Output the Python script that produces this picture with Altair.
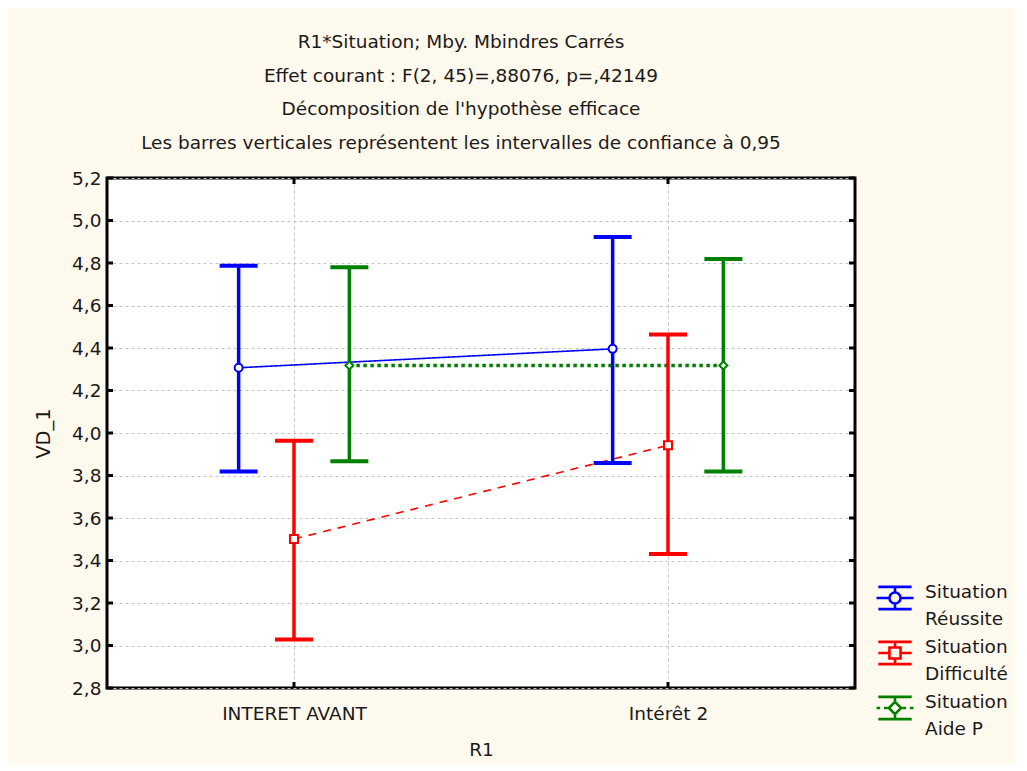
import altair as alt
import pandas as pd

categories = ["INTERET AVANT", "Intérêt 2"]
series_names = ["Situation Réussite", "Situation Difficulté", "Situation Aide P"]
series_colors = ["#0000ff", "#ff0000", "#008000"]

means_reussite = [4.307, 4.396]
lower_reussite = [3.819, 3.859]
upper_reussite = [4.787, 4.922]

means_difficulte = [3.501, 3.942]
lower_difficulte = [3.028, 3.431]
upper_difficulte = [3.964, 4.463]

means_aide = [4.318, 4.318]
lower_aide = [3.867, 3.819]
upper_aide = [4.780, 4.819]

y_ticks = [2.8, 3.0, 3.2, 3.4, 3.6, 3.8, 4.0, 4.2, 4.4, 4.6, 4.8, 5.0, 5.2]

title_lines = [
    "R1*Situation; Mby. Mbindres Carrés",
    "Effet courant : F(2, 45)=,88076, p=,42149",
    "Décomposition de l'hypothèse efficace",
    "Les barres verticales représentent les intervalles de confiance à 0,95",
]

markers = ["circle", "square", "diamond"]
line_dashes = [[1, 0], [8, 7], [3.5, 3.5]]
line_widths = [1.6, 1.6, 3.5]

# ---- build table
rows = []
all_means = [means_reussite, means_difficulte, means_aide]
all_lo = [lower_reussite, lower_difficulte, lower_aide]
all_hi = [upper_reussite, upper_difficulte, upper_aide]
for si, name in enumerate(series_names):
    for ci, cat in enumerate(categories):
        rows.append(dict(series=name, sidx=si, cat=cat, cidx=ci,
                         mean=all_means[si][ci], lo=all_lo[si][ci],
                         hi=all_hi[si][ci], marker=markers[si]))
df = pd.DataFrame(rows)
ticks_df = pd.DataFrame({"v": y_ticks})
cat_df = pd.DataFrame({"cidx": list(range(len(categories)))})

FONT = "DejaVu Sans"
FS = 18.5
TXT = "#1a1a1a"
W, H = 748, 510
DODGE = 0.148

label_expr = "[" + ",".join("'" + c + "'" for c in categories) + "][datum.value]"
col_expr = "[" + ",".join("'" + c + "'" for c in series_colors) + "][datum.sidx]"
dash_expr = "[" + ",".join("[" + ",".join(str(v) for v in d) + "]" for d in line_dashes) + "][datum.sidx]"
lw_expr = "[" + ",".join(str(v) for v in line_widths) + "][datum.sidx]"

x_scale = alt.Scale(domain=[-0.5, len(categories) - 0.5], nice=False, zero=False)
y_scale = alt.Scale(domain=[y_ticks[0], y_ticks[-1]], nice=False, zero=False)

x_axis = alt.Axis(values=list(range(len(categories))), labelExpr=label_expr,
                  title="R1", grid=True, gridDash=[3, 3], gridColor="#c4c4c4",
                  domain=False, ticks=False, labelPadding=16, titlePadding=18,
                  labelFontSize=FS, titleFontSize=FS, labelFont=FONT, titleFont=FONT,
                  labelColor=TXT, titleColor=TXT, titleFontWeight="normal")
y_axis = alt.Axis(values=y_ticks,
                  labelExpr="replace(format(datum.value, '.1f'), '.', ',')",
                  title="VD_1", grid=True, gridDash=[3, 3], gridColor="#c4c4c4",
                  domain=False, ticks=False, labelPadding=6, titlePadding=18,
                  labelFontSize=FS, titleFontSize=FS + 1, labelFont=FONT, titleFont=FONT,
                  labelColor=TXT, titleColor=TXT, titleFontWeight="normal")


def X(field):
    return alt.X(field, type="quantitative", scale=x_scale, axis=x_axis)


def Y(field):
    return alt.Y(field, type="quantitative", scale=y_scale, axis=y_axis)


color_scale = alt.Scale(domain=series_names, range=series_colors)

base = alt.Chart(df).transform_calculate(
    pos=f"datum.cidx + (datum.sidx - 1) * {DODGE}",
    col=col_expr,
    dash=dash_expr,
    lw=lw_expr,
)

beam = "M-0.9,-0.6H0.9M-0.9,0.6H0.9M0,-0.6V-0.3M0,0.3V0.6"
legend_paths = [
    beam + "M-1,0H-0.3M0.3,0H1M0.3,0A0.3,0.3,0,1,1,-0.3,0A0.3,0.3,0,1,1,0.3,0",
    beam + "M-0.9,0H-0.3M0.3,0H0.9M-0.3,-0.3H0.3V0.3H-0.3Z",
    beam + "M-1,0H-0.8M-0.6,0H-0.4M0.4,0H0.6M0.8,0H1M0,-0.33L0.33,0L0,0.33L-0.33,0Z",
]

leg = alt.Legend(title=None, orient="none", legendX=768, legendY=400,
                 symbolSize=1369, symbolStrokeWidth=2.6, symbolOpacity=1,
                 symbolFillColor="transparent",
                 labelFont=FONT, labelFontSize=FS, labelColor=TXT,
                 labelBaseline="alphabetic", labelOffset=10, rowPadding=4,
                 labelExpr="[slice(datum.label, 0, 9), slice(datum.label, 10)]")

legend_layer = base.mark_point(opacity=0, filled=False).encode(
    x=X("pos"), y=Y("mean"),
    color=alt.Color("series:N", scale=color_scale, legend=leg),
    shape=alt.Shape("series:N", scale=alt.Scale(domain=series_names, range=legend_paths), legend=leg),
)

lines = base.mark_line().encode(
    x=X("pos"), y=Y("mean"),
    color=alt.Color("col:N", scale=None),
    strokeDash=alt.StrokeDash("dash:N", scale=None),
    strokeWidth=alt.StrokeWidth("lw:Q", scale=None),
    detail="series:N",
)

stems = base.mark_rule(strokeWidth=3.5).encode(
    x=X("pos"), y=Y("lo"), y2="hi",
    color=alt.Color("col:N", scale=None),
)

caps = base.transform_fold(["lo", "hi"], as_=["end", "val"]).mark_tick(
    orient="horizontal", size=38, thickness=4, opacity=1
).encode(
    x=X("pos"), y=Y("val"),
    color=alt.Color("col:N", scale=None),
)

points = base.mark_point(filled=True, fill="white", size=64, strokeWidth=2, opacity=1).encode(
    x=X("pos"), y=Y("mean"),
    stroke=alt.Stroke("col:N", scale=None),
    shape=alt.Shape("marker:N", scale=None),
)

left_ticks = alt.Chart(ticks_df).mark_rule(color="black", strokeWidth=3).encode(
    y=Y("v"), x=alt.value(0), x2=alt.value(6))
right_ticks = alt.Chart(ticks_df).mark_rule(color="black", strokeWidth=3).encode(
    y=Y("v"), x=alt.value(W - 6), x2=alt.value(W))
top_ticks = alt.Chart(cat_df).mark_rule(color="black", strokeWidth=3).encode(
    x=X("cidx"), y=alt.value(0), y2=alt.value(6))
bottom_ticks = alt.Chart(cat_df).mark_rule(color="black", strokeWidth=3).encode(
    x=X("cidx"), y=alt.value(H - 6), y2=alt.value(H))

chart = alt.layer(
    legend_layer, lines, stems, caps, points,
    left_ticks, right_ticks, top_ticks, bottom_ticks,
).properties(
    width=W, height=H,
    title=alt.TitleParams(text=title_lines, fontSize=FS, lineHeight=33.5, font=FONT,
                          fontWeight="normal", color=TXT, anchor="middle",
                          offset=17, dx=-20),
    autosize=alt.AutoSizeParams(type="none"),
    padding={"left": 99, "top": 170, "right": 160, "bottom": 76},
    background="#fff9ee",
).configure(
    style={"guide-label": {"lineHeight": 27}}
).configure_view(
    stroke="black", strokeWidth=3, fill="white"
)

chart.save("out.html", embed_options={"renderer": "svg", "actions": False})
